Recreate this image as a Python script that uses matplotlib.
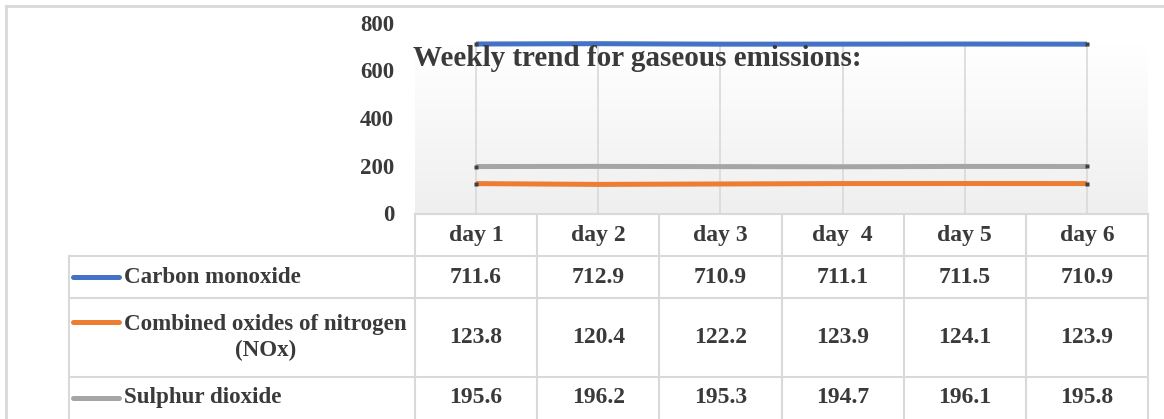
import numpy as np
import matplotlib
matplotlib.use('Agg')
import matplotlib.pyplot as plt
from matplotlib.colors import LinearSegmentedColormap

# Dados
dias = ['day 1', 'day 2', 'day 3', 'day  4', 'day 5', 'day 6']
co = [711.6, 712.9, 710.9, 711.1, 711.5, 710.9]
nox = [123.8, 120.4, 122.2, 123.9, 124.1, 123.9]
so2 = [195.6, 196.2, 195.3, 194.7, 196.1, 195.8]
series = [
    ('Carbon monoxide', co, '#4472C4'),
    ('Combined oxides of nitrogen\n(NOx)', nox, '#ED7D31'),
    ('Sulphur dioxide', so2, '#A5A5A5'),
]
titulo = 'Weekly trend for gaseous emissions:'
yticks = [0, 200, 400, 600, 800]

W, H = 1164, 419
FONTE = 'Liberation Serif'
TXT = '#3a3a3a'
BORDA = '#d9d9d9'

fig = plt.figure(figsize=(W / 100, H / 100), dpi=100)

# Area do grafico (em pixels)
px_esq, px_dir, px_topo, px_base = 415, 1148, 23, 213
ax = fig.add_axes([px_esq / W, 1 - px_base / H, (px_dir - px_esq) / W, (px_base - px_topo) / H])
n = len(dias)
x = np.arange(n)
ax.set_xlim(-0.5, n - 0.5)
ax.set_ylim(0, 800)
ax.patch.set_visible(False)
for s in ax.spines.values():
    s.set_visible(False)

# fundo em degrade
topo_area = 707
grad = np.linspace(1, 0, 100).reshape(-1, 1)
cmap = LinearSegmentedColormap.from_list('g', ['#efefef', '#ffffff'])
ax.imshow(grad, extent=[-0.5, n - 0.5, 0, topo_area], aspect='auto', cmap=cmap,
          vmin=0, vmax=1, origin='upper', zorder=0)
ax.vlines(x, 0, topo_area, colors=BORDA, lw=1.2, zorder=1)

for nome, vals, cor in series:
    ax.plot(x, vals, color=cor, lw=3.6, solid_capstyle='butt', zorder=3,
            marker='s', markevery=[0, n - 1], ms=2.5, mfc='#404040', mec='none')

ax.set_xticks([])
ax.set_yticks(yticks)
ax.set_yticklabels([str(v) for v in yticks], fontfamily=FONTE, fontweight='bold',
                   fontsize=16.5, color=TXT)
ax.tick_params(axis='y', length=0, pad=15)

# Camada em pixels para tabela, titulo e moldura
ov = fig.add_axes([0, 0, 1, 1])
ov.set_xlim(0, W)
ov.set_ylim(H, 0)
ov.axis('off')
ov.patch.set_visible(False)

# moldura
ov.plot([6, W], [6, 6], color=BORDA, lw=2)
ov.plot([6, 6], [6, H], color=BORDA, lw=2)

ov.text(413, 58, titulo, fontfamily=FONTE, fontweight='bold', fontsize=21,
        color=TXT, ha='left', va='center', zorder=5)

# Tabela de dados
col_w = (px_dir - px_esq) / n
col_edges = [px_esq + i * col_w for i in range(n + 1)]
linhas_y = [214, 256, 298, 377, 430]
tab_esq = 69
ov.plot([px_esq, px_dir], [linhas_y[0]] * 2, color=BORDA, lw=1.5)
for yy in linhas_y[1:4]:
    ov.plot([tab_esq, px_dir], [yy, yy], color=BORDA, lw=1.5)
for xx in col_edges:
    ov.plot([xx, xx], [linhas_y[0], H], color=BORDA, lw=1.5)
ov.plot([tab_esq, tab_esq], [linhas_y[1], H], color=BORDA, lw=1.5)

fs_tab = 17
for i, d in enumerate(dias):
    cx = (col_edges[i] + col_edges[i + 1]) / 2
    ov.text(cx, (linhas_y[0] + linhas_y[1]) / 2, d, fontfamily=FONTE, fontweight='bold',
            fontsize=fs_tab, color=TXT, ha='center', va='center')

key_y = [277, 322, 398]
for r, (nome, vals, cor) in enumerate(series):
    cy = (linhas_y[r + 1] + linhas_y[r + 2]) / 2
    if r == 2:
        cy = 397
    for i, v in enumerate(vals):
        cx = (col_edges[i] + col_edges[i + 1]) / 2
        ov.text(cx, cy, f'{v:.1f}', fontfamily=FONTE, fontweight='bold',
                fontsize=fs_tab, color=TXT, ha='center', va='center')
    ov.plot([73, 119], [key_y[r]] * 2, color=cor, lw=3.6, solid_capstyle='round')
    ov.text(124, cy, nome, fontfamily=FONTE, fontweight='bold', fontsize=16.6,
            color=TXT, ha='left', va='center', multialignment='center', linespacing=1.3)

fig.savefig('out.png', dpi=100)
